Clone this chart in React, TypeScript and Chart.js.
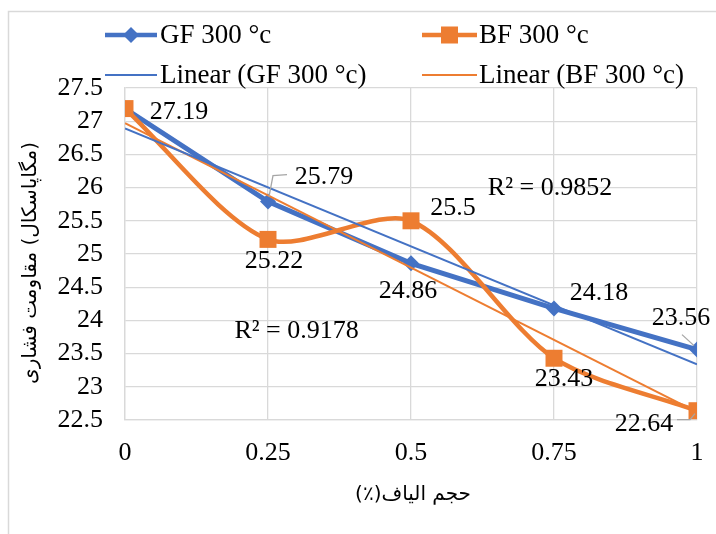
import React, { useEffect, useRef } from "react";
import { Chart, registerables } from "chart.js";

Chart.register(...registerables);

// ---- data ----
const fiberVolume = [0, 0.25, 0.5, 0.75, 1];
const gfValues = [27.19, 25.79, 24.86, 24.18, 23.56];
const bfValues = [27.19, 25.22, 25.5, 23.43, 22.64];
const trendX = [0, 1];
const gfTrendEnds = [26.89, 23.34];
const bfTrendEnds = [26.97, 22.62];
const r2Texts = ["R² = 0.9852", "R² = 0.9178"];
const seriesNames = ["GF 300 °c", "BF 300 °c", "Linear (GF 300 °c)", "Linear (BF 300 °c)"];
const xTitle = "حجم الیاف(٪)";
const yTitle = "(مگاپاسکال) مقاومت فشاری";

const BLUE = "#4472C4";
const ORANGE = "#ED7D31";
const GRID = "#d9d9d9";
const SERIF = "'Liberation Serif', 'Times New Roman', serif";
const ARABIC = "'DejaVu Sans', sans-serif";

// label offsets (px) relative to the point, and leader lines
const gfLabelOffsets: ([number, number] | null)[] = [[54, 3], [56, -25], [-3, 27], [45, -16], [-16, -32]];
const bfLabelOffsets: ([number, number] | null)[] = [null, [6, 21], [42, -14], [10, 20], [-53, 12]];
const gfLeaders: ([number, number][] | null)[] = [null, [[1, -5], [5, -26], [19, -27]], null, null, [[-15, -15], [-3, -4]]];
const bfLeaders: ([number, number][] | null)[] = [null, null, null, null, [[-20, 9], [-7, 9], [-2, 3]]];
const r2Pos: [number, number][] = [[0.743, 26.01], [0.3, 23.86]];

function drawDiamond(ctx: CanvasRenderingContext2D, x: number, y: number, r: number, color: string) {
  ctx.beginPath();
  ctx.moveTo(x, y - r);
  ctx.lineTo(x + r, y);
  ctx.lineTo(x, y + r);
  ctx.lineTo(x - r, y);
  ctx.closePath();
  ctx.fillStyle = color;
  ctx.fill();
}

function drawSquare(ctx: CanvasRenderingContext2D, x: number, y: number, half: number, color: string) {
  ctx.fillStyle = color;
  ctx.fillRect(x - half, y - half, half * 2, half * 2);
}

const overlayPlugin = {
  id: "overlay",
  beforeDraw(chart: any) {
    const ctx: CanvasRenderingContext2D = chart.ctx;
    ctx.save();
    ctx.fillStyle = "#ffffff";
    ctx.fillRect(0, 0, chart.width, chart.height);
    ctx.strokeStyle = GRID;
    ctx.lineWidth = 1.5;
    ctx.strokeRect(8.5, 11.5, 800, 700);
    ctx.restore();
  },
  afterDraw(chart: any) {
    const ctx: CanvasRenderingContext2D = chart.ctx;
    const xs = chart.scales.x;
    const ys = chart.scales.y;
    ctx.save();

    // legend
    const legendRows = [35, 75];
    const legendCols = [[105, 157, 160], [422, 477, 479]];
    ctx.font = `27px ${SERIF}`;
    ctx.textBaseline = "middle";
    ctx.textAlign = "left";
    const items = [
      { row: 0, col: 0, color: BLUE, w: 4.5, marker: "diamond" },
      { row: 0, col: 1, color: ORANGE, w: 4.5, marker: "square" },
      { row: 1, col: 0, color: BLUE, w: 2, marker: "" },
      { row: 1, col: 1, color: ORANGE, w: 2, marker: "" },
    ];
    items.forEach((it, i) => {
      const y = legendRows[it.row];
      const [x0, x1, tx] = legendCols[it.col];
      ctx.strokeStyle = it.color;
      ctx.lineWidth = it.w;
      ctx.beginPath();
      ctx.moveTo(x0, y);
      ctx.lineTo(x1, y);
      ctx.stroke();
      if (it.marker === "diamond") drawDiamond(ctx, (x0 + x1) / 2, y, 8, it.color);
      if (it.marker === "square") drawSquare(ctx, (x0 + x1) / 2, y, 8.5, it.color);
      ctx.fillStyle = "#000";
      ctx.fillText(seriesNames[i], tx, y + 1);
    });

    // data labels
    const drawLabels = (vals: number[], offs: ([number, number] | null)[], leaders: ([number, number][] | null)[]) => {
      vals.forEach((v, i) => {
        const px = xs.getPixelForValue(fiberVolume[i]);
        const py = ys.getPixelForValue(v);
        const ld = leaders[i];
        if (ld) {
          ctx.strokeStyle = "#a6a6a6";
          ctx.lineWidth = 1.3;
          ctx.beginPath();
          ld.forEach(([dx, dy], k) => (k === 0 ? ctx.moveTo(px + dx, py + dy) : ctx.lineTo(px + dx, py + dy)));
          ctx.stroke();
        }
        const o = offs[i];
        if (!o) return;
        ctx.fillStyle = "#000";
        ctx.font = `26px ${SERIF}`;
        ctx.textAlign = "center";
        ctx.textBaseline = "middle";
        ctx.fillText(String(v), px + o[0], py + o[1] + 1);
      });
    };
    drawLabels(gfValues, gfLabelOffsets, gfLeaders);
    drawLabels(bfValues, bfLabelOffsets, bfLeaders);

    // R² texts
    ctx.font = `26px ${SERIF}`;
    ctx.textAlign = "center";
    ctx.textBaseline = "middle";
    ctx.fillStyle = "#000";
    r2Texts.forEach((t, i) => {
      ctx.fillText(t, xs.getPixelForValue(r2Pos[i][0]), ys.getPixelForValue(r2Pos[i][1]) + 1);
    });

    // axis titles (RTL)
    ctx.direction = "rtl";
    ctx.font = `20px ${ARABIC}`;
    ctx.textAlign = "center";
    ctx.textBaseline = "middle";
    ctx.fillText(xTitle, 413, 495);
    ctx.save();
    ctx.translate(31, 263);
    ctx.rotate(-Math.PI / 2);
    ctx.fillText(yTitle, 0, 0);
    ctx.restore();

    ctx.restore();
  },
};

const fmt = (v: any) => String(Number(Number(v).toFixed(2)));

export default function App() {
  const ref = useRef<HTMLCanvasElement | null>(null);
  useEffect(() => {
    if (!ref.current) return;
    const tickFont = { family: SERIF, size: 26 };
    const chart = new Chart(ref.current, {
      type: "line",
      data: {
        datasets: [
          {
            label: seriesNames[2],
            data: trendX.map((x, i) => ({ x, y: gfTrendEnds[i] })),
            borderColor: BLUE,
            borderWidth: 2,
            pointRadius: 0,
            order: 0,
          },
          {
            label: seriesNames[3],
            data: trendX.map((x, i) => ({ x, y: bfTrendEnds[i] })),
            borderColor: ORANGE,
            borderWidth: 2,
            pointRadius: 0,
            order: 1,
          },
          {
            label: seriesNames[1],
            data: fiberVolume.map((x, i) => ({ x, y: bfValues[i] })),
            borderColor: ORANGE,
            backgroundColor: ORANGE,
            borderWidth: 4.5,
            pointStyle: "rect",
            pointRadius: 12,
            pointBorderWidth: 0,
            tension: 0.28,
            order: 2,
          },
          {
            label: seriesNames[0],
            data: fiberVolume.map((x, i) => ({ x, y: gfValues[i] })),
            borderColor: BLUE,
            backgroundColor: BLUE,
            borderWidth: 5,
            pointStyle: "rectRot",
            pointRadius: 8,
            pointBorderWidth: 0,
            tension: 0,
            order: 3,
          },
        ],
      },
      options: {
        animation: false,
        responsive: false,
        devicePixelRatio: 1,
        events: [],
        layout: { autoPadding: false, padding: { left: 0, right: 19, top: 88, bottom: 64 } },
        plugins: { legend: { display: false }, tooltip: { enabled: false } },
        scales: {
          x: {
            type: "linear",
            min: 0,
            max: 1,
            ticks: { stepSize: 0.25, font: tickFont, color: "#000", padding: 18, maxRotation: 0, autoSkip: false, callback: fmt },
            grid: { color: GRID, lineWidth: 1.3, drawTicks: false },
            border: { color: GRID, width: 1.3 },
            afterFit: (s: any) => {
              s.height = 50;
              s.paddingLeft = 0;
              s.paddingRight = 0;
            },
          },
          y: {
            type: "linear",
            min: 22.5,
            max: 27.5,
            ticks: { stepSize: 0.5, font: tickFont, color: "#000", padding: 22, autoSkip: false, callback: fmt },
            grid: { color: GRID, lineWidth: 1.3, drawTicks: false },
            border: { color: GRID, width: 1.3 },
            afterFit: (s: any) => {
              s.width = 125;
              s.paddingTop = 0;
              s.paddingBottom = 0;
            },
          },
        },
      } as any,
      plugins: [overlayPlugin],
    });
    return () => chart.destroy();
  }, []);
  return (
    <div style={{ position: "fixed", left: 0, top: 0, width: 716, height: 534 }}>
      <canvas ref={ref} width={716} height={534} style={{ width: 716, height: 534, display: "block" }} />
    </div>
  );
}
